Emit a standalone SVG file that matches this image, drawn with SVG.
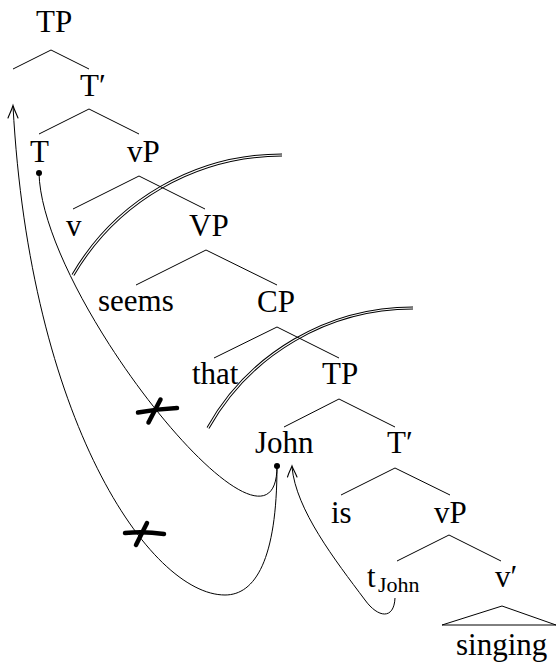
<svg xmlns="http://www.w3.org/2000/svg" width="556" height="663" viewBox="0 0 556 663">
<style>
.n{font-family:"Liberation Serif","Times New Roman",serif;font-size:31px;fill:#000}
.s{font-family:"Liberation Serif","Times New Roman",serif;font-size:22px;fill:#000}
.e{stroke:#000;stroke-width:1;fill:none}
.m{stroke:#000;stroke-width:1;fill:none}
.ah{stroke:#000;stroke-width:1.1;fill:none;stroke-linecap:round}
.dot{fill:#000}
.arcb{stroke:#000;stroke-width:3.2;fill:none}
.arcw{stroke:#fff;stroke-width:1.2;fill:none}
.x{stroke:#000;stroke-width:4.5;fill:none;stroke-linecap:round}
</style>
<rect width="556" height="663" fill="#fff"/>
<g id="barriers">
<path class="arcb" d="M73,275 A242,242 0 0 1 282,155"/>
<path class="arcw" d="M73,275 A242,242 0 0 1 282,155"/>
<path class="arcb" d="M208,428 A235,235 0 0 1 413,308"/>
<path class="arcw" d="M208,428 A235,235 0 0 1 413,308"/>
</g>
<g id="connectors">
<path class="e" d="M13,69 L51,50 L89,69"/>
<path class="e" d="M39,134 L89,109 L139,134"/>
<path class="e" d="M73,209 L139,176 L205,209"/>
<path class="e" d="M136,285 L206,250 L277,285"/>
<path class="e" d="M214,358 L277,327 L339,358"/>
<path class="e" d="M284,427 L339,399 L395,427"/>
<path class="e" d="M341,495 L395,468 L450,495"/>
<path class="e" d="M397,561 L449,535 L501,561"/>
<path class="e" d="M442,625 L502,606 L556,625 Z"/>
<path class="m" d="M39,173 C42,300 277,590 277,466"/>
<path class="m" d="M277,466 C277,560 255,595 225,595 C150,595 30,420 13,106"/>
<path class="ah" d="M8,118 C10,113 12,109 13,105.5 C14,109 16,113 18,118"/>
<path class="m" d="M395,598 C394,620 378,618 365,600 C335,560 296,510 292,467"/>
<path class="ah" d="M287.5,477 C289,472 291,469 292,466 C293,469 295,472 297,477"/>
<circle class="dot" cx="39" cy="173" r="3"/>
<circle class="dot" cx="277" cy="466" r="3"/>
<path class="x" d="M138,412.5 Q157,409 177,408"/>
<path class="x" d="M148.5,422.5 L160.5,399.5"/>
<path class="x" d="M125,533 Q144,531 164,534"/>
<path class="x" d="M136,545 L147,523"/>
</g>
<g id="n-TP1"><text class="n" x="36" y="32">TP</text></g>
<g id="n-Tbar1"><text class="n" x="80" y="96">T′</text></g>
<g id="n-T"><text class="n" x="30" y="162">T</text></g>
<g id="n-vP1"><text class="n" x="127" y="162">vP</text></g>
<g id="n-v"><text class="n" x="66" y="236">v</text></g>
<g id="n-VP"><text class="n" x="189" y="236">VP</text></g>
<g id="n-seems"><text class="n" x="98" y="311">seems</text></g>
<g id="n-CP"><text class="n" x="257" y="312">CP</text></g>
<g id="n-that"><text class="n" x="192" y="384">that</text></g>
<g id="n-TP2"><text class="n" x="322" y="384">TP</text></g>
<g id="n-John"><text class="n" x="255" y="453">John</text></g>
<g id="n-Tbar2"><text class="n" x="387" y="453">T′</text></g>
<g id="n-is"><text class="n" x="331" y="523">is</text></g>
<g id="n-vP2"><text class="n" x="434" y="523">vP</text></g>
<g id="n-tJohn"><text class="n" x="367" y="587">t<tspan class="s" x="378" y="592">John</tspan></text></g>
<g id="n-vbar"><text class="n" x="495" y="587">v′</text></g>
<g id="n-singing"><text class="n" x="456" y="655">singing</text></g>
</svg>
